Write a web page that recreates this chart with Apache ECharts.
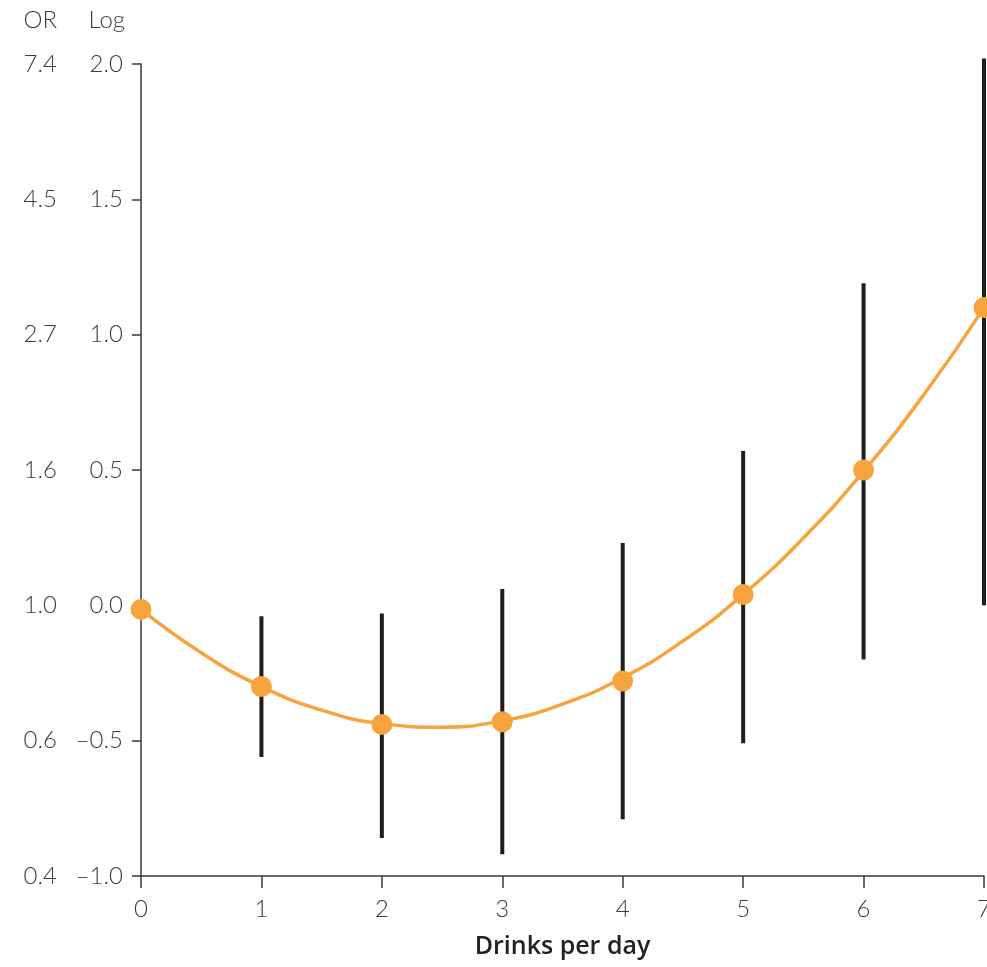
<!DOCTYPE html>
<html><head><meta charset="utf-8">
<script src="https://cdn.jsdelivr.net/npm/echarts@6/dist/echarts.min.js"></script>
<style>html,body{margin:0;padding:0;background:#fff;overflow:hidden}#c{width:987px;height:967px}</style>
</head><body><div id="c"></div>
<script>
const drinks = [0, 1, 2, 3, 4, 5, 6, 7];
const logOR = [-0.015, -0.3, -0.44, -0.43, -0.28, 0.04, 0.5, 1.1];
const ciLow = [null, -0.56, -0.86, -0.92, -0.79, -0.51, -0.2, 0.0];
const ciHigh = [null, -0.04, -0.03, 0.06, 0.23, 0.57, 1.19, 2.02];
// fitted curve at half-drink steps
const curveX = [0, 0.5, 1, 1.5, 2, 2.5, 3, 3.5, 4, 4.5, 5, 5.5, 6, 6.5, 7];
const curveY = [-0.015, -0.175, -0.3, -0.387, -0.437, -0.45, -0.426, -0.365, -0.267, -0.132, 0.04, 0.249, 0.495, 0.778, 1.1];
const orLabels = ['0.4', '0.6', '1.0', '1.6', '2.7', '4.5', '7.4'];
const logLabels = ['\u20131.0', '\u20130.5', '0.0', '0.5', '1.0', '1.5', '2.0'];

const pointData = drinks.map((d, i) => [d, logOR[i]]);
const curveData = curveX.map((x, i) => [x, curveY[i]]);
const ciData = drinks.map((d, i) => [d, ciLow[i], ciHigh[i]]).filter(r => r[1] !== null);

const font = 'Lato';
const labelColor = '#3c3c3c';
const orange = '#F7A33E';
const chart = echarts.init(document.getElementById('c'));
chart.setOption({
  animation: false,
  grid: { left: 141, right: 3, top: 64, bottom: 91, containLabel: false, outerBoundsMode: 'none' },
  xAxis: {
    type: 'value', min: 0, max: 7, interval: 1,
    name: 'Drinks per day', nameLocation: 'middle', nameGap: 58,
    nameTextStyle: { fontFamily: 'Open Sans', fontWeight: 600, fontSize: 25, color: '#222' },
    axisLine: { onZero: false, lineStyle: { color: '#3a3a3a', width: 1.5 } },
    axisTick: { length: 12, lineStyle: { color: '#3a3a3a', width: 1.5 } },
    axisLabel: { fontFamily: font, fontWeight: 300, fontSize: 24, color: labelColor, margin: 21, hideOverlap: false },
    splitLine: { show: false }
  },
  yAxis: [{
    type: 'value', min: -1, max: 2, interval: 0.5, position: 'left',
    name: 'Log', nameLocation: 'end', nameGap: 32,
    nameTextStyle: { fontFamily: font, fontWeight: 300, fontSize: 24, color: labelColor, align: 'right', padding: [0, 16, 0, 0] },
    axisLine: { show: true, onZero: false, lineStyle: { color: '#3a3a3a', width: 1.5 } },
    axisTick: { show: true, length: 9, lineStyle: { color: '#3a3a3a', width: 1.5 } },
    axisLabel: { fontFamily: font, fontWeight: 300, fontSize: 24, color: labelColor, margin: 18,
      formatter: v => logLabels[Math.round((v + 1) / 0.5)] },
    splitLine: { show: false }
  }, {
    type: 'value', min: -1, max: 2, interval: 0.5, position: 'left', offset: 65,
    name: 'OR', nameLocation: 'end', nameGap: 32,
    nameTextStyle: { fontFamily: font, fontWeight: 300, fontSize: 24, color: labelColor, align: 'right', padding: [0, 19, 0, 0] },
    axisLine: { show: false, onZero: false }, axisTick: { show: false },
    axisLabel: { fontFamily: font, fontWeight: 300, fontSize: 24, color: labelColor, margin: 19,
      formatter: v => orLabels[Math.round((v + 1) / 0.5)] },
    splitLine: { show: false }
  }],
  series: [{
    type: 'custom',
    data: ciData,
    renderItem: (params, api) => {
      const p1 = api.coord([api.value(0), api.value(1)]);
      const p2 = api.coord([api.value(0), api.value(2)]);
      return { type: 'line', shape: { x1: p1[0], y1: p1[1], x2: p2[0], y2: p2[1] },
        style: { stroke: '#1e1e1e', lineWidth: 4 } };
    },
    z: 1
  }, {
    type: 'line', data: curveData, smooth: 0.5, showSymbol: false,
    lineStyle: { color: orange, width: 3.5 },
    z: 2
  }, {
    type: 'scatter', data: pointData,
    symbol: 'circle', symbolSize: 21,
    itemStyle: { color: orange, opacity: 1 },
    z: 3
  }]
});
</script></body></html>
